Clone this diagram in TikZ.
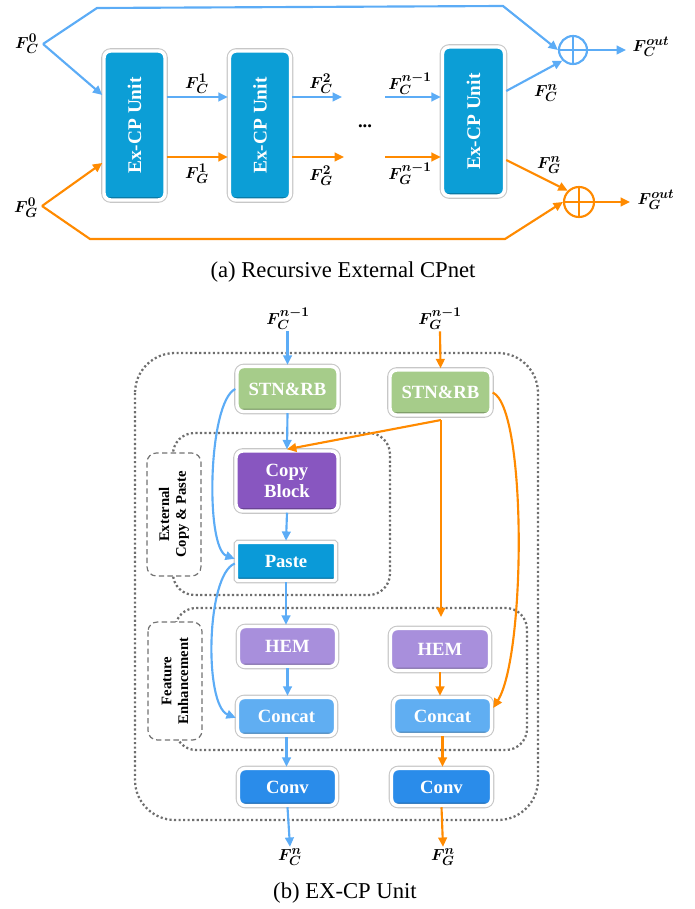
\documentclass[tikz,border=0pt]{standalone}
\usepackage{fontspec}
\setmainfont{Liberation Serif}
\usepackage{bm}
\usetikzlibrary{arrows.meta,calc,shadows}
% larger scripts for the feature labels
\DeclareMathSizes{13}{13}{10}{8}

\definecolor{lnblue}{RGB}{92,172,246}
\definecolor{lnorange}{RGB}{255,138,0}
\definecolor{unitcol}{RGB}{12,158,214}
\definecolor{stncol}{RGB}{166,204,138}
\definecolor{copycol}{RGB}{136,86,192}
\definecolor{pastecol}{RGB}{10,154,216}
\definecolor{hemcol}{RGB}{168,143,220}
\definecolor{concatcol}{RGB}{96,174,242}
\definecolor{convcol}{RGB}{42,140,234}
\definecolor{dotgray}{RGB}{110,110,110}

\tikzset{
  box/.style={draw=white, line width=2.6pt, rounded corners=5pt,
    preaction={draw=black!22, line width=4.2pt},
    path picture={\fill[black,opacity=0.22]
      ([yshift=2.2pt]path picture bounding box.south west) rectangle
      (path picture bounding box.south east);},
    text=white, font=\fontsize{14}{16}\selectfont\bfseries, align=center,
    inner sep=0pt},
  flbl/.style={font=\fontsize{13}{15}\selectfont, inner sep=1pt},
  blue arrow/.style={draw=lnblue, line width=1.6pt, -{Triangle[length=7pt,width=6.5pt]}},
  orange arrow/.style={draw=lnorange, line width=1.6pt, -{Triangle[length=7pt,width=6.5pt]}},
  blue line/.style={draw=lnblue, line width=1.6pt},
  orange line/.style={draw=lnorange, line width=1.6pt},
  dotframe/.style={draw=dotgray, line width=1.7pt, dash pattern=on 1.6pt off 1.8pt},
  tagbox/.style={draw=black!55, line width=0.9pt, dash pattern=on 4pt off 2.5pt,
    fill=white, rounded corners=7pt},
  tagtext/.style={rotate=90, align=center, font=\fontsize{11}{12.5}\selectfont\bfseries},
  caption/.style={font=\fontsize{17}{20}\selectfont},
  plusnode/.style={circle, line width=1.6pt, minimum size=#1, inner sep=0pt},
}

\newcommand{\mkbox}[6]{%
  \node[box, fill=#2, minimum width={#3*0.75pt}, minimum height={#4*0.75pt}] (#1) at (#5) {#6};}

\begin{document}
\begin{tikzpicture}[x=0.75pt,y=-0.75pt]
\useasboundingbox (0,0) rectangle (694,909);

% ---------------- (a) recursive chain ----------------
\mkbox{u1}{unitcol}{61}{149}{134.5,125.5}{}
\mkbox{u2}{unitcol}{61}{149}{260,125.5}{}
\mkbox{u3}{unitcol}{62}{149}{473.5,121.5}{}
\foreach \u in {u1,u2,u3}
  \node[rotate=90, text=white, font=\fontsize{14.5}{16}\selectfont\bfseries] (\u t) at (\u) {Ex-CP Unit};

\node[plusnode=28*0.75pt, draw=lnblue] (pc) at (573,50) {};
\draw[blue line] (pc.north) -- (pc.south) (pc.west) -- (pc.east);
\node[plusnode=30*0.75pt, draw=lnorange] (pg) at (579,202) {};
\draw[orange line] (pg.north) -- (pg.south) (pg.west) -- (pg.east);

\node[flbl] (fc0) at (27,44) {$\bm{F_C^0}$};
\node[flbl] (fg0) at (26,208) {$\bm{F_G^0}$};
\node[flbl] (fc1) at (197,84) {$\bm{F_C^1}$};
\node[flbl] (fg1) at (197,174) {$\bm{F_G^1}$};
\node[flbl] (fc2) at (321,84) {$\bm{F_C^2}$};
\node[flbl] (fg2) at (321,176) {$\bm{F_G^2}$};
\node[flbl] (fcn1) at (410,84) {$\bm{F_C^{n-1}}$};
\node[flbl] (fgn1) at (410,174) {$\bm{F_G^{n-1}}$};
\node[flbl] (fcn) at (546,93) {$\bm{F_C^n}$};
\node[flbl] (fgn) at (549,165) {$\bm{F_G^n}$};
\node[flbl] (fco) at (651,47) {$\bm{F_C^{out}}$};
\node[flbl] (fgo) at (656,200) {$\bm{F_G^{out}}$};
\node[font=\fontsize{14}{16}\selectfont\bfseries] (dots) at (365,126) {...};

\coordinate (c0) at (43,44);
\coordinate (g0) at (42,206);
\coordinate (ct1) at (97,8);
\coordinate (ct2) at (503,6);
\coordinate (gb1) at (90,239);
\coordinate (gb2) at (505,239);
\coordinate (a1) at (385,97);
\coordinate (a2) at (385,157);
\coordinate (a3) at (342,97);
\coordinate (a4) at (344,157);

% skip paths
\draw[blue arrow] (c0) -- (ct1) -- (ct2) -- (pc.west);
\draw[orange arrow] (g0) -- (gb1) -- (gb2) -- (pg.west);
% inputs into the first unit
\draw[blue arrow] (c0) -- (u1.west |- 0,95);
\draw[orange arrow] (g0) -- (u1.west |- 0,163);
% unit to unit
\draw[blue arrow] (u1.east |- 0,97) -- (u2.west |- 0,97);
\draw[orange arrow] (u1.east |- 0,157) -- (u2.west |- 0,157);
\draw[blue arrow] (u2.east |- 0,97) -- (a3);
\draw[orange arrow] (u2.east |- 0,157) -- (a4);
\draw[blue arrow] (a1) -- (u3.west |- 0,97);
\draw[orange arrow] (a2) -- (u3.west |- 0,157);
% last unit into the sums
\draw[blue arrow] (u3.east |- 0,91) -- (pc.south west);
\draw[orange arrow] (u3.east |- 0,160) -- (pg.north west);
\draw[blue arrow] (pc.east) -- (626,50);
\draw[orange arrow] (pg.east) -- (630,202);

\node[caption] (capa) at (343,272) {(a) Recursive External CPnet};

% ---------------- (b) EX-CP unit ----------------
\draw[dotframe, rounded corners=30pt] (135,353) rectangle (538,820);
\draw[dotframe, rounded corners=16pt] (173,433) rectangle (390,595);
\draw[dotframe, rounded corners=16pt] (175,608) rectangle (527,750);
\draw[tagbox] (147,453) rectangle (201,576);
\node[tagtext] (tag1) at (174,514.5) {External\\Copy \& Paste};
\draw[tagbox] (148,622) rectangle (202,740);
\node[tagtext] (tag2) at (175,681) {Feature\\Enhancement};

\mkbox{sL}{stncol}{101}{45}{287.5,389}{STN\&RB}
\mkbox{sR}{stncol}{101}{45}{440.5,392.5}{STN\&RB}
\mkbox{cb}{copycol}{102}{60}{287,481}{Copy\\Block}
\node[box, rounded corners=1pt, fill=pastecol, minimum width={99*0.75pt}, minimum height={38*0.75pt}] (pa) at (286,561.5) {Paste};
\mkbox{hL}{hemcol}{98}{40}{287.5,646.5}{HEM}
\mkbox{hR}{hemcol}{99}{42}{440,649.5}{HEM}
\mkbox{ccL}{concatcol}{98}{38}{286.5,716.5}{Concat}
\mkbox{ccR}{concatcol}{98}{37}{442.5,716}{Concat}
\mkbox{cvL}{convcol}{98}{37}{287.5,787}{Conv}
\mkbox{cvR}{convcol}{100}{37}{441.5,787}{Conv}

\node[flbl] (ic) at (288,319) {$\bm{F_C^{n-1}}$};
\node[flbl] (ig) at (440,319) {$\bm{F_G^{n-1}}$};
\node[flbl] (oc) at (290,857) {$\bm{F_C^n}$};
\node[flbl] (og) at (443,857) {$\bm{F_G^n}$};

% color-image stream
\draw[blue arrow] (ic.south -| sL.north) -- (sL.north);
\draw[blue arrow] (sL.south) -- (cb.north);
\draw[blue arrow] (cb.south) -- (pa.north);
\draw[blue arrow] (pa.south) -- (pa.south |- hL.north);
\draw[blue arrow] (hL.south) -- (hL.south |- ccL.north);
\draw[blue arrow] (ccL.south) -- (ccL.south |- cvL.north);
\draw[blue arrow] (cvL.south) -- (oc.north);
\draw[blue arrow] (sL.west) .. controls (208,402) and (205,548) .. ([yshift=2pt]pa.west);
\draw[blue arrow] ([yshift=-1.5pt]pa.west) .. controls (206,575) and (204,705) .. ([yshift=-1pt]ccL.west);

% gradient stream
\draw[orange arrow] (ig.south) -- (sR.north);
\coordinate (sb) at (441,420);
\draw[orange arrow] (sb) -- (cb.north);
\draw[orange arrow] (sb) -- (441,617);
\draw[orange arrow] (hR.south) -- (hR.south |- ccR.north);
\draw[orange arrow] (ccR.south) -- (ccR.south |- cvR.north);
\draw[orange arrow] (cvR.south) -- (og.north);
\draw[orange arrow] (sR.east) .. controls (527,408) and (526,655) .. ([yshift=6pt]ccR.east);

\node[caption] (capb) at (345,893) {(b) EX-CP Unit};
\end{tikzpicture}
\end{document}
